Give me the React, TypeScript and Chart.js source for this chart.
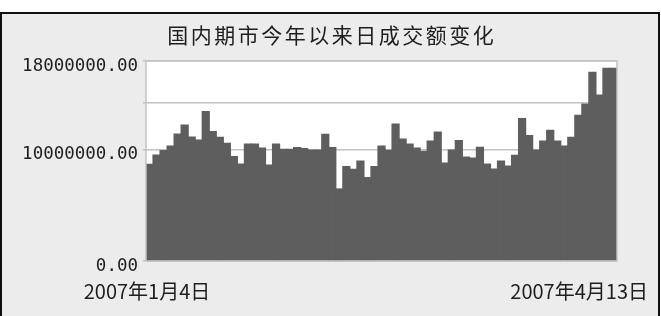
import React, { useEffect, useRef } from "react";
import { Chart, registerables } from "chart.js";

Chart.register(...registerables);

const TITLE = "国内期市今年以来日成交额变化";

const tradingDays: string[] = [
  "2007年1月4日", "2007年1月5日", "2007年1月8日", "2007年1月9日", "2007年1月10日",
  "2007年1月11日", "2007年1月12日", "2007年1月15日", "2007年1月16日", "2007年1月17日",
  "2007年1月18日", "2007年1月19日", "2007年1月22日", "2007年1月23日", "2007年1月24日",
  "2007年1月25日", "2007年1月26日", "2007年1月29日", "2007年1月30日", "2007年1月31日",
  "2007年2月1日", "2007年2月2日", "2007年2月5日", "2007年2月6日", "2007年2月7日",
  "2007年2月8日", "2007年2月9日", "2007年2月12日", "2007年2月13日", "2007年2月14日",
  "2007年2月15日", "2007年2月16日", "2007年2月26日", "2007年2月27日", "2007年2月28日",
  "2007年3月1日", "2007年3月2日", "2007年3月5日", "2007年3月6日", "2007年3月7日",
  "2007年3月8日", "2007年3月9日", "2007年3月12日", "2007年3月13日", "2007年3月14日",
  "2007年3月15日", "2007年3月16日", "2007年3月19日", "2007年3月20日", "2007年3月21日",
  "2007年3月22日", "2007年3月23日", "2007年3月26日", "2007年3月27日", "2007年3月28日",
  "2007年3月29日", "2007年3月30日", "2007年4月2日", "2007年4月3日", "2007年4月4日",
  "2007年4月5日", "2007年4月6日", "2007年4月9日", "2007年4月10日", "2007年4月11日",
  "2007年4月12日", "2007年4月13日",
];

const turnover: number[] = [
  8700000, 9540000, 9930000, 10350000, 11430000, 12240000, 11160000, 10890000, 13440000, 11640000,
  11130000, 10590000, 9390000, 8730000, 10530000, 10530000, 10170000, 8640000, 10530000, 10050000,
  10050000, 10200000, 10110000, 9990000, 9990000, 11400000, 10200000, 6480000, 8490000, 8250000,
  9000000, 7500000, 8490000, 10350000, 9950000, 12330000, 10980000, 10530000, 10170000, 9860000,
  10800000, 11610000, 8820000, 9990000, 10830000, 9360000, 9270000, 10230000, 8730000, 8280000,
  9000000, 8550000, 9500000, 12810000, 11280000, 9990000, 10800000, 11750000, 10800000, 10350000,
  11130000, 13100000, 14130000, 16980000, 14940000, 17340000, 17340000,
];

const yTickValues: number[] = [0, 10000000, 14220000, 18000000];
const yTickLabels: string[] = ["0.00", "10000000.00", "", "18000000.00"];

const TEXT = "#1e1e1e";
const GRID = "#c2c2c2";

const decorPlugin = {
  id: "decor",
  beforeDraw(chart: any) {
    const { ctx, chartArea: a } = chart;
    ctx.save();
    ctx.fillStyle = "#ffffff";
    ctx.fillRect(a.left, a.top, a.right - a.left, a.bottom - a.top);
    ctx.restore();
  },
  afterDraw(chart: any) {
    const { ctx, chartArea: a } = chart;
    ctx.save();
    ctx.strokeStyle = GRID;
    ctx.lineWidth = 1.5;
    ctx.strokeRect(a.left, a.top, a.right - a.left, a.bottom - a.top);

    // title
    ctx.fillStyle = TEXT;
    ctx.font = '21px "Noto Sans CJK SC"';
    (ctx as any).letterSpacing = "2.5px";
    ctx.textAlign = "center";
    ctx.textBaseline = "middle";
    ctx.fillText(TITLE, chart.width / 2 + 1.25, a.top - 26);
    (ctx as any).letterSpacing = "0px";

    // first and last date labels
    const labels = chart.data.labels as string[];
    ctx.font = '20px "Noto Sans CJK SC"';
    ctx.textAlign = "center";
    ctx.fillText(labels[0], a.left + 1, a.bottom + 30);
    ctx.textAlign = "right";
    ctx.fillText(labels[labels.length - 1], a.right + 31, a.bottom + 30);
    ctx.restore();
  },
};

export default function App() {
  const ref = useRef<HTMLCanvasElement>(null);

  useEffect(() => {
    if (!ref.current) return;
    const chart = new Chart(ref.current, {
      type: "bar",
      data: {
        labels: tradingDays,
        datasets: [
          {
            data: turnover,
            backgroundColor: "#5e5e5e",
            borderWidth: 0,
            categoryPercentage: 1,
            barPercentage: 1,
            inflateAmount: 0.6,
          } as any,
        ],
      },
      options: {
        responsive: false,
        animation: false,
        devicePixelRatio: 1,
        layout: { padding: { top: 61, right: 44, left: 0, bottom: 0 } },
        plugins: {
          legend: { display: false },
          tooltip: { enabled: false },
          title: { display: false },
        },
        scales: {
          x: {
            grid: { display: false },
            border: { display: false },
            ticks: { display: false },
            afterFit: (s: any) => {
              s.height = 55;
            },
          },
          y: {
            min: 0,
            max: 18000000,
            afterBuildTicks: (s: any) => {
              s.ticks = yTickValues.map((v) => ({ value: v }));
            },
            afterFit: (s: any) => {
              s.width = 146;
            },
            grid: {
              color: GRID,
              lineWidth: 1.5,
              drawTicks: true,
              tickLength: 3,
            },
            border: { display: false },
            ticks: {
              autoSkip: false,
              padding: 5,
              labelOffset: 5,
              color: TEXT,
              font: { family: '"DejaVu Sans Mono"', size: 17.5 },
              callback: (_v: any, i: number) => yTickLabels[i],
            },
          },
        },
      },
      plugins: [decorPlugin],
    });
    return () => chart.destroy();
  }, []);

  return (
    <div
      style={{
        position: "absolute",
        left: 0,
        top: 0,
        width: 661,
        height: 316,
        overflow: "hidden",
        background: "#ffffff",
      }}
    >
      <div
        style={{
          position: "absolute",
          left: 0,
          top: 12,
          width: 660,
          height: 330,
          boxSizing: "border-box",
          border: "2px solid #111",
          background: "#ececec",
        }}
      />
      <canvas
        ref={ref}
        width={661}
        height={316}
        style={{ position: "absolute", left: 0, top: 0, width: 661, height: 316 }}
      />
    </div>
  );
}
